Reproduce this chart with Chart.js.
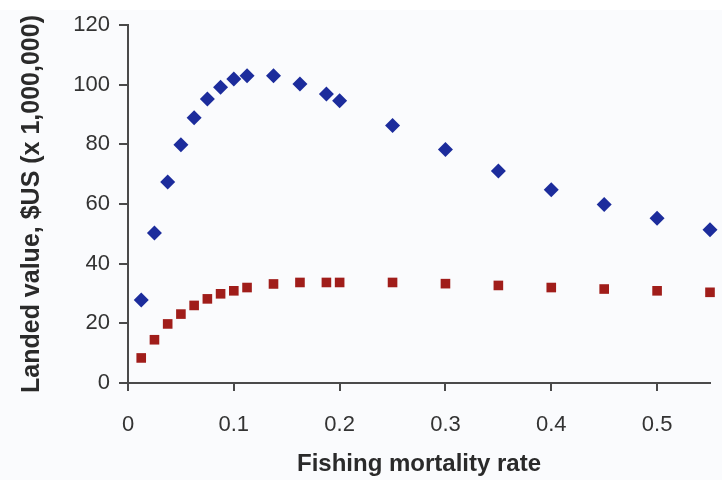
<!DOCTYPE html>
<html>
<head>
<meta charset="utf-8">
<script src="https://cdn.jsdelivr.net/npm/chart.js@4/dist/chart.umd.min.js"></script>
<style>
  html, body { margin: 0; padding: 0; background: #fafbfd; }
  #wrap { width: 722px; height: 480px; }
</style>
</head>
<body>
<div id="wrap"><canvas id="c" width="722" height="480"></canvas></div>
<script>
const fishingRate = [0.0125, 0.025, 0.0375, 0.05, 0.0625, 0.075, 0.0875, 0.1, 0.1125, 0.1375, 0.1625, 0.1875, 0.2, 0.25, 0.3, 0.35, 0.4, 0.45, 0.5, 0.55];
const landedValueA = [27.8, 50.3, 67.4, 79.9, 88.9, 95.2, 99.1, 101.9, 103.0, 103.0, 100.2, 96.9, 94.6, 86.3, 78.3, 71.1, 64.8, 59.8, 55.2, 51.4];
const landedValueB = [8.4, 14.5, 19.8, 23.1, 26.0, 28.2, 29.9, 30.9, 32.0, 33.2, 33.7, 33.7, 33.7, 33.7, 33.3, 32.7, 32.0, 31.5, 30.9, 30.4];
const xTitle = 'Fishing mortality rate';
const yTitle = 'Landed value, $US (x 1,000,000)';

const toPoints = (xs, ys) => xs.map((x, i) => ({ x: x, y: ys[i] }));

const bgPlugin = {
  id: 'bg',
  beforeDraw(chart) {
    const ctx = chart.ctx;
    ctx.save();
    ctx.fillStyle = '#fafbfd';
    ctx.fillRect(0, 0, chart.width, chart.height);
    ctx.fillStyle = '#ffffff';
    ctx.fillRect(0, 0, chart.width, 10);
    ctx.restore();
  }
};

new Chart(document.getElementById('c'), {
  type: 'scatter',
  data: {
    datasets: [
      {
        data: toPoints(fishingRate, landedValueA),
        pointStyle: 'rectRot',
        pointRadius: 7.5,
        backgroundColor: '#1c2c9c',
        borderColor: '#1c2c9c',
        borderWidth: 0,
        clip: false
      },
      {
        data: toPoints(fishingRate, landedValueB),
        pointStyle: 'rect',
        pointRadius: 6.8,
        backgroundColor: '#a01d1a',
        borderColor: '#a01d1a',
        borderWidth: 0,
        clip: false
      }
    ]
  },
  options: {
    responsive: false,
    animation: false,
    layout: { padding: { top: 25, right: 12, left: 0, bottom: 0 } },
    plugins: { legend: { display: false }, tooltip: { enabled: false } },
    scales: {
      x: {
        type: 'linear',
        min: 0,
        max: 0.55,
        afterFit(scale) { scale.height = 97; },
        ticks: {
          stepSize: 0.1,
          includeBounds: false,
          padding: 21,
          color: '#333333',
          font: { family: 'Liberation Sans, Arial, sans-serif', size: 22 },
          callback: (v) => (Math.round(v * 10) / 10).toString()
        },
        grid: { drawOnChartArea: false, drawTicks: true, tickLength: 8, color: '#4a4a4a', lineWidth: 2 },
        border: { display: true, color: '#4a4a4a', width: 2 },
        title: {
          display: true,
          text: xTitle,
          color: '#2a2a2a',
          font: { family: 'Liberation Sans, Arial, sans-serif', size: 24, weight: 'bold', lineHeight: 1.2 },
          padding: { top: 0, bottom: 1 }
        }
      },
      y: {
        min: 0,
        max: 120,
        afterFit(scale) { scale.width = 128; },
        ticks: {
          stepSize: 20,
          padding: 9,
          color: '#333333',
          font: { family: 'Liberation Sans, Arial, sans-serif', size: 22 }
        },
        grid: { drawOnChartArea: false, drawTicks: true, tickLength: 9, color: '#4a4a4a', lineWidth: 2 },
        border: { display: true, color: '#4a4a4a', width: 2 },
        title: {
          display: true,
          text: yTitle,
          color: '#2a2a2a',
          font: { family: 'Liberation Sans, Arial, sans-serif', size: 25, weight: 'bold', lineHeight: 1.2 },
          padding: { top: 17, bottom: 0 }
        }
      }
    }
  },
  plugins: [bgPlugin]
});
</script>
</body>
</html>
